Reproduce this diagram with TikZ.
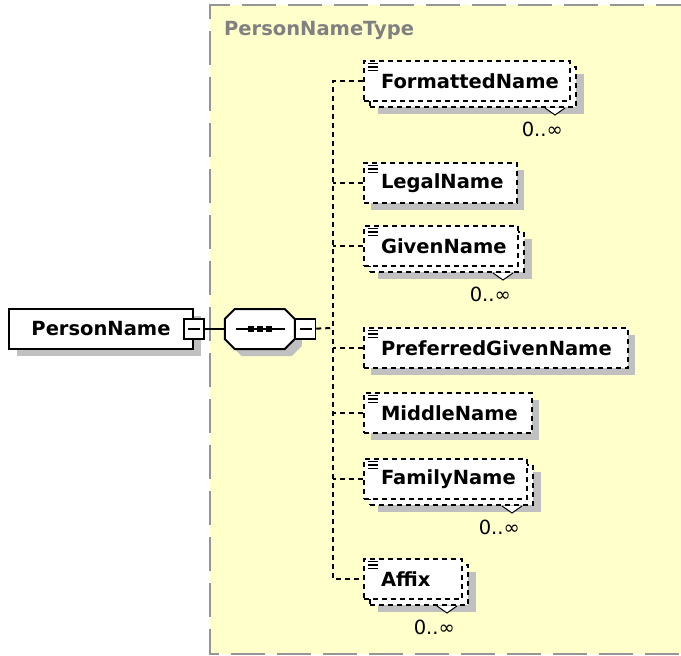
\documentclass[tikz,border=0pt]{standalone}
\usepackage{fontspec}
\setmainfont{DejaVu Sans}
\usepackage{tikz}
\usetikzlibrary{positioning, shadows}
\definecolor{typefill}{RGB}{255,255,204}
\definecolor{typeline}{RGB}{150,150,150}
\definecolor{typetext}{RGB}{128,128,128}
\definecolor{shadowgray}{RGB}{192,192,192}
\tikzset{
    x=1pt, y=-1pt,
    namefont/.style={font=\fontsize{19.5}{22}\selectfont\bfseries},
    conn/.style={line width=2pt, dash pattern=on 5pt off 4pt},
    elembox/.style={draw, fill=white, conn, anchor=north west,
        minimum height=40pt, inner xsep=17pt, inner ysep=0pt,
        align=left, text width=#1, namefont},
    elem/.style={elembox=#1,
        drop shadow={shadow xshift=7pt, shadow yshift=-7pt, fill=shadowgray, opacity=1}},
    elemrep/.style={elembox=#1,
        drop shadow={shadow xshift=14pt, shadow yshift=-13pt, fill=shadowgray, opacity=1},
        copy shadow={shadow xshift=6pt, shadow yshift=-6pt, conn}},
    rootelem/.style={draw, fill=white, line width=2pt, minimum width=184pt,
        minimum height=40pt, inner sep=0pt, namefont,
        drop shadow={shadow xshift=8pt, shadow yshift=-7pt, fill=shadowgray, opacity=1}},
    seqbox/.style={minimum width=70pt, minimum height=40pt, inner sep=0pt, outer sep=0pt},
    collapse/.style={draw, fill=white, line width=1.5pt, minimum size=20pt, inner sep=0pt,
        path picture={\draw[line width=1.5pt] ([xshift=4pt]path picture bounding box.west)
            -- ([xshift=-4pt]path picture bounding box.east);}},
    occurs/.style={font=\fontsize{19.5}{22}\selectfont, inner sep=0pt},
    typename/.style={namefont, text=typetext, inner sep=0pt}
}

\begin{document}
\begin{tikzpicture}
    \useasboundingbox (0,0) rectangle (681,656);

    % complex type area
    \fill[typefill] (210,5) rectangle (690,654);
    \draw[typeline, line width=2.5pt, dash pattern=on 34pt off 12pt]
        (690,5) -- (210,5) -- (210,654) -- (690,654);
    \node[typename, anchor=base west] (ptname) at (224,35) {PersonNameType};

    % root element and sequence
    \node[rootelem, anchor=north west] (pn) at (8,308) {PersonName};
    \node[collapse] (pnm) at (pn.east) {};
    \node[seqbox, right=20pt of pnm] (seq) {};
    \fill[shadowgray] ([shift={(17,7)}]seq.north west) -- ++(50,0) -- ++(10,10) -- ++(0,20)
        -- ++(-10,10) -- ++(-50,0) -- ++(-10,-10) -- ++(0,-20) -- cycle;
    \filldraw[fill=white, line width=2pt] ([xshift=10pt]seq.north west) -- ++(50,0)
        -- ++(10,10) -- ++(0,20) -- ++(-10,10) -- ++(-50,0) -- ++(-10,-10) -- ++(0,-20) -- cycle;
    \node[collapse, anchor=west] (seqm) at (seq.east) {};
    \draw[line width=1.5pt] ([xshift=-24pt]seq.center) -- ([xshift=25pt]seq.center);
    \foreach \dx in {-9,0,9}
        \fill ([xshift=\dx pt]seq.center) +(-3,-3) rectangle +(3,3);

    % child elements
    \node[elemrep=172pt] (fmt) at (363,60)  {FormattedName};
    \node[elem=119pt]    (lgl) at (363,162) {LegalName};
    \node[elemrep=120pt] (gvn) at (363,225) {GivenName};
    \node[elem=230pt]    (pgn) at (363,327) {PreferredGivenName};
    \node[elem=134pt]    (mid) at (363,392) {MiddleName};
    \node[elemrep=129pt] (fam) at (363,458) {FamilyName};
    \node[elemrep=64pt]  (afx) at (363,558) {Affix};

    \foreach \e in {fmt,lgl,gvn,pgn,mid,fam,afx}
        \foreach \dy in {3.5,7,10.5}
            \draw[line width=1.3pt] ([shift={(5,\dy)}]\e.north west) -- ++(10,0);

    \foreach \e in {fmt,gvn,fam,afx}{
        \filldraw[fill=white, line width=1pt]
            ([shift={(-26,6)}]\e.south east) -- ++(10,7) -- ++(10,-7);
        \node[occurs, anchor=east] (\e-occ) at ([shift={(-8,27)}]\e.south east) {0..∞};
    }

    % connectors
    \coordinate (bus) at (333,328);
    \draw[line width=1.5pt] (pnm) -- (seq);
    \draw[conn] (seqm) -- (bus);
    \draw[conn] (fmt.west) -| (bus) |- (afx.west);
    \foreach \e in {lgl,gvn,pgn,mid,fam}
        \draw[conn] (\e.west) -- (\e.west -| bus);

\end{tikzpicture}
\end{document}
